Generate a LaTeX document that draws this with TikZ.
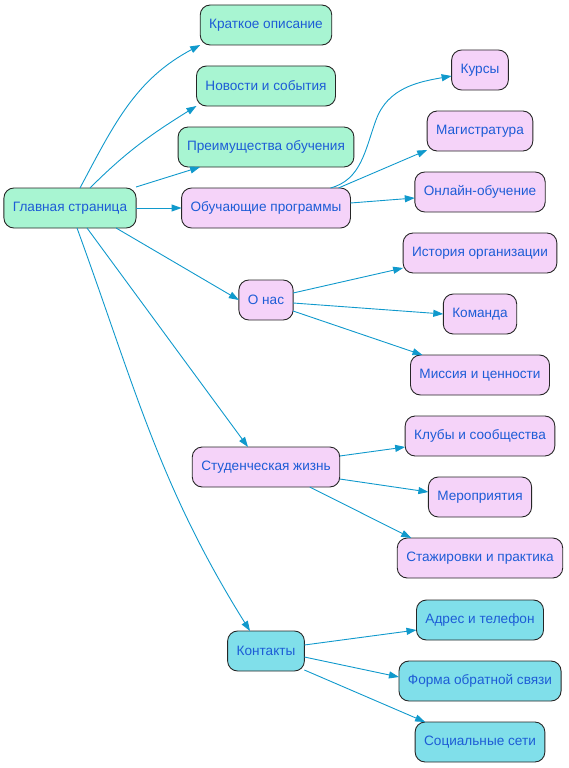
\documentclass[tikz,border=0pt]{standalone}
\usepackage{fontspec}
\setmainfont{Liberation Sans}
\usetikzlibrary{positioning, arrows.meta}

\definecolor{edgeblue}{RGB}{16,153,204}
\definecolor{textblue}{RGB}{29,92,214}
\definecolor{mintfill}{RGB}{168,245,210}
\definecolor{pinkfill}{RGB}{245,211,249}
\definecolor{cyanfill}{RGB}{128,223,234}

\tikzset{
  page/.style={draw=black!85, line width=0.9pt, rounded corners=10pt,
    minimum height=40pt, inner xsep=9pt, outer sep=0pt, text=textblue,
    font=\fontsize{13.6}{16}\selectfont},
  mint/.style={page, fill=mintfill},
  pink/.style={page, fill=pinkfill},
  cyan/.style={page, fill=cyanfill},
  link/.style={draw=edgeblue, line width=0.9pt,
    -{Triangle[length=10pt,width=7pt]}}
}

\begin{document}
\begin{tikzpicture}[x=1pt, y=1pt]
    \useasboundingbox (0,0) rectangle (569,-768);
    \node [mint] (home) at (70,-208) {Главная страница};
    % first level
    \node [mint] (summary) at (266,-25) {Краткое описание};
    \node [mint] (news) at (266,-86) {Новости и события};
    \node [mint] (benefits) at (266,-147) {Преимущества обучения};
    \node [pink] (programs) at (266,-208) {Обучающие программы};
    \node [pink] (about) at (266,-300) {О нас};
    \node [pink] (student) at (266,-467) {Студенческая жизнь};
    \node [cyan] (contacts) at (266,-651) {Контакты};
    % second level
    \node [pink] (courses) at (480,-70) {Курсы};
    \node [pink, below=21pt of courses] (master) {Магистратура};
    \node [pink, below=21pt of master] (online) {Онлайн-обучение};
    \node [pink, below=21pt of online] (history) {История организации};
    \node [pink, below=21pt of history] (team) {Команда};
    \node [pink, below=21pt of team] (mission) {Миссия и ценности};
    \node [pink, below=21pt of mission] (clubs) {Клубы и сообщества};
    \node [pink, below=21pt of clubs] (events) {Мероприятия};
    \node [pink, below=21pt of events] (intern) {Стажировки и практика};
    \node [cyan] (address) at (480,-620) {Адрес и телефон};
    \node [cyan, below=21pt of address] (feedback) {Форма обратной связи};
    \node [cyan, below=21pt of feedback] (social) {Социальные сети};

    \draw [link] (home.north) ++(10,0) to[out=62, in=208] (summary.south west);
    \draw [link] (home.north) ++(20,0) to[out=45, in=212] (news.south west);
    \draw [link] (home.north east) ++(0,1) -- ([xshift=22pt]benefits.south west);
    \draw [link] (home) -- (programs);
    \draw [link] ([xshift=-20pt]home.south east) -- (about.west);
    \draw [link] (home.south) ++(17,0) -- ([xshift=-18pt]student.north);
    \draw [link] (home.south) ++(7,0) to[out=-70, in=122] ([xshift=-16pt]contacts.north);

    \draw [link] ([xshift=-20pt]programs.north east) to[out=15, in=250] (376,-120)
      to[out=70, in=190] ([yshift=-6pt]courses.west);
    \draw [link] ([xshift=-12pt]programs.north east) -- ([yshift=1pt]master.south west);
    \draw [link] ([yshift=5pt]programs.east) -- ([yshift=-6pt]online.west);
    \draw [link] ([yshift=7pt]about.east) -- ([yshift=5pt]history.south west);
    \draw [link] ([yshift=-3pt]about.east) -- (team.west);
    \draw [link] ([yshift=-11pt]about.east) -- ([xshift=12pt]mission.north west);
    \draw [link] ([yshift=-9pt]student.north east) -- ([yshift=-11pt]clubs.west);
    \draw [link] ([yshift=8pt]student.south east) -- ([yshift=5pt]events.west);
    \draw [link] ([xshift=-30pt]student.south east) -- ([xshift=14pt]intern.north west);
    \draw [link] ([yshift=6pt]contacts.east) -- ([yshift=-10pt]address.west);
    \draw [link] ([yshift=-6pt]contacts.east) -- ([yshift=4pt]feedback.west);
    \draw [link] ([yshift=1pt]contacts.south east) -- ([xshift=10pt]social.north west);
\end{tikzpicture}
\end{document}
